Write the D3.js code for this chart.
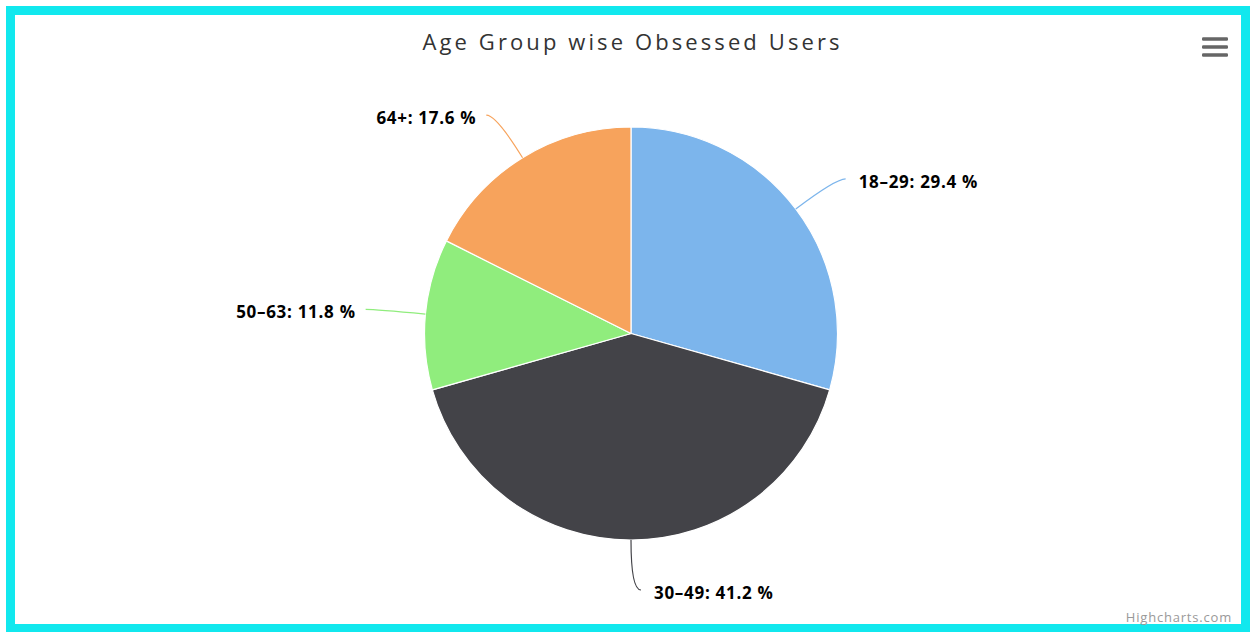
<!DOCTYPE html>
<html>
<head>
<meta charset="utf-8">
<script src="https://cdn.jsdelivr.net/npm/d3@7"></script>
<style>
  html, body { margin: 0; padding: 0; background: #ffffff; }
  svg { display: block; }
</style>
</head>
<body>
<svg id="chart" width="1251" height="632"></svg>
<script>
// Age groups and their share of obsessed users (percent)
const categories = ["18–29", "30–49", "50–63", "64+"];
const shares = [29.4, 41.2, 11.8, 17.6];
const colors = ["#7cb5ec", "#434348", "#90ed7d", "#f7a35c"];

const W = 1251, H = 632;
const cx = 631, cy = 333.5, radius = 206.5;
const labelDistance = 50;

const svg = d3.select("#chart");

// Frame around the chart
svg.append("rect")
  .attr("x", 10.5).attr("y", 10.5)
  .attr("width", W - 16).attr("height", H - 14)
  .attr("fill", "#ffffff")
  .attr("stroke", "#11e8ee")
  .attr("stroke-width", 9);

// Title
const titleSpacing = 3.1;
svg.append("text")
  .attr("x", 631 + titleSpacing / 2).attr("y", 50)
  .attr("text-anchor", "middle")
  .attr("font-family", "'Open Sans', sans-serif")
  .attr("font-size", 22)
  .attr("letter-spacing", titleSpacing)
  .attr("fill", "#333333")
  .text("Age Group wise Obsessed Users");

// Context menu icon
const menu = svg.append("g").attr("fill", "#666666");
[39, 47, 55].forEach(y => {
  menu.append("rect")
    .attr("x", 1202).attr("y", y - 1.8)
    .attr("width", 26).attr("height", 3.6)
    .attr("rx", 1.2);
});

// Credit
svg.append("text")
  .attr("x", 1232).attr("y", 622)
  .attr("text-anchor", "end")
  .attr("font-family", "'Open Sans', sans-serif")
  .attr("font-size", 13)
  .attr("letter-spacing", 0.8)
  .attr("fill", "#999999")
  .text("Highcharts.com");

const data = categories.map((c, i) => ({ name: c, value: shares[i], color: colors[i] }));

const pie = d3.pie().sort(null).value(d => d.value);
const arcs = pie(data);

const arc = d3.arc().innerRadius(0).outerRadius(radius);

const g = svg.append("g").attr("transform", `translate(${cx},${cy})`);

g.selectAll("path.slice")
  .data(arcs)
  .join("path")
  .attr("class", "slice")
  .attr("d", arc)
  .attr("fill", d => d.data.color)
  .attr("stroke", "#ffffff")
  .attr("stroke-width", 1.2)
  .attr("stroke-linejoin", "round");

// Polar helper: angle measured clockwise from 12 o'clock
const polar = (a, r) => [Math.sin(a) * r, -Math.cos(a) * r];

arcs.forEach(d => {
  const mid = (d.startAngle + d.endAngle) / 2;
  const side = Math.sin(mid) < -1e-6 ? -1 : 1;
  const edge = polar(mid, radius);
  const anchor = polar(mid, radius + labelDistance);
  const end = [anchor[0] + side * 10, anchor[1]];

  g.append("path")
    .attr("d", `M${edge[0]},${edge[1]} Q${anchor[0]},${anchor[1]} ${end[0]},${end[1]}`)
    .attr("fill", "none")
    .attr("stroke", d.data.color)
    .attr("stroke-width", 1.2);

  const txt = `${d.data.name}: ${d.data.value.toFixed(1)} %`;
  const tx = anchor[0] + side * (side < 0 ? 20 : 23);
  const ty = anchor[1] + 3;

  // light halo behind the label text, then the label itself
  ["halo", "label"].forEach(kind => {
    const t = g.append("text")
      .attr("x", tx).attr("y", ty)
      .attr("dy", "0.35em")
      .attr("text-anchor", side < 0 ? "end" : "start")
      .attr("font-family", "'Open Sans', sans-serif")
      .attr("font-weight", "bold")
      .attr("font-size", 17)
      .attr("letter-spacing", 0.7)
      .attr("fill", "#000000")
      .text(txt);
    if (kind === "halo") {
      t.attr("stroke", "#ffffff")
        .attr("stroke-width", 2)
        .attr("stroke-linejoin", "round");
    }
  });
});
</script>
</body>
</html>
